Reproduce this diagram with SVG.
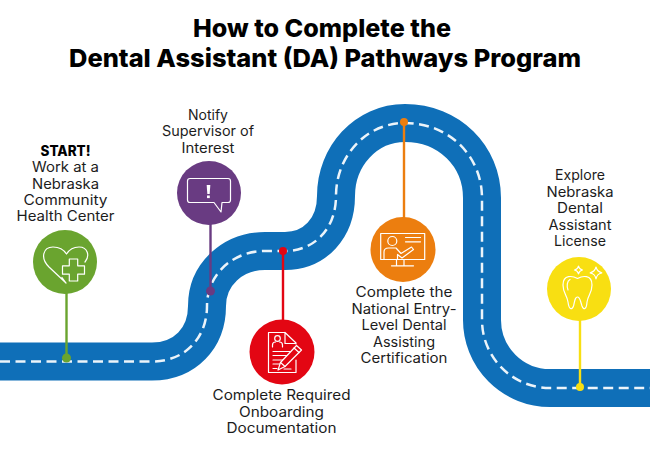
<svg xmlns="http://www.w3.org/2000/svg" width="650" height="450" viewBox="0 0 650 450">
<style>
text{font-family:"Inter","Liberation Sans",sans-serif;font-size:14px;fill:#1c1c1c;text-anchor:middle}
.t{font-size:25px;font-weight:800;fill:#000}
.b{font-weight:800;fill:#000}
.i{fill:none;stroke:#fff;stroke-width:1.2;stroke-linejoin:round;stroke-linecap:round}
.c{fill:none;stroke-width:2.4}
</style>
<rect width="650" height="450" fill="#fff"/>
<g id="title">
<text class="t" x="322" y="37" textLength="258" lengthAdjust="spacingAndGlyphs">How to Complete the</text>
<text class="t" x="325" y="67" textLength="512" lengthAdjust="spacingAndGlyphs">Dental Assistant (DA) Pathways Program</text>
</g>
<g id="road" fill="none">
<path id="road-body" d="M0 361.500H152C185 361.500 207 338 207 306C207 274 233 251 265 251H285C315 251 336 228 336 196C336 156 366 123 405 123C449 123 482 156 482 198V320A68 68 0 0 0 550 388H650" stroke="#0F6FB8" stroke-width="38"/>
<path id="road-dash" d="M0 361.500H152C185 361.500 207 338 207 306C207 274 233 251 265 251H285C315 251 336 228 336 196C336 156 366 123 405 123C449 123 482 156 482 198V320A68 68 0 0 0 550 388H650" stroke="#fff" stroke-width="2.500" stroke-dasharray="10 5.500" opacity=".92"/>
</g>
<g id="connectors">
<path class="c" stroke="#6AA42F" d="M66.500 290V358"/><circle cx="66.500" cy="358" r="4.500" fill="#6AA42F"/>
<path class="c" stroke="#693B82" d="M210.500 222V291"/><circle cx="210.500" cy="291" r="4.500" fill="#693B82"/>
<path class="c" stroke="#E30613" d="M283 251V322"/><circle cx="283" cy="251" r="4" fill="#E30613"/>
<path class="c" stroke="#EC7E0F" d="M404 122V220"/><circle cx="404" cy="122" r="4" fill="#EC7E0F"/>
<path class="c" stroke="#F8DF12" d="M580 318V387"/><circle cx="580" cy="387" r="4" fill="#F8DF12"/>
</g>
<g id="node-start">
<circle cx="65" cy="262" r="32" fill="#6AA42F"/>
<path class="i" d="M66 283L49 267C40 258 43 247 53 247C60 247 64 250 66.500 254C69 250 73 247 79 247C88 247 90 256 85 262M62 277.500L66 283"/>
<path class="i" d="M69.300 259H77.700V265.800H84.500V274.200H77.700V281H69.300V274.200H62.500V265.800H69.300Z"/>
<text class="b" x="65.500" y="156" textLength="50" lengthAdjust="spacingAndGlyphs">START!</text>
<text x="65.500" y="172" textLength="67" lengthAdjust="spacingAndGlyphs">Work at a</text>
<text x="65.500" y="188.500" textLength="67" lengthAdjust="spacingAndGlyphs">Nebraska</text>
<text x="65.500" y="205" textLength="84" lengthAdjust="spacingAndGlyphs">Community</text>
<text x="65.500" y="221" textLength="98" lengthAdjust="spacingAndGlyphs">Health Center</text>
</g>
<g id="node-notify">
<circle cx="209" cy="193" r="32" fill="#693B82"/>
<path class="i" d="M190 178.500H228Q230.500 178.500 230.500 181V200Q230.500 202.500 228 202.500H222L221 212L214 202.500H190Q187.500 202.500 187.500 200V181Q187.500 178.500 190 178.500Z"/>
<path d="M206.700 185H210.300L209.700 194H207.300Z" fill="#fff"/><rect x="207" y="195.500" width="2.800" height="2.600" fill="#fff"/>
<text x="208" y="120" textLength="40" lengthAdjust="spacingAndGlyphs">Notify</text>
<text x="208" y="136" textLength="92" lengthAdjust="spacingAndGlyphs">Supervisor of</text>
<text x="208" y="152.500" textLength="53" lengthAdjust="spacingAndGlyphs">Interest</text>
</g>
<g id="node-documentation">
<circle cx="282" cy="352" r="32.500" fill="#E30613"/>
<path class="i" d="M285 332.500H268.500V372.500H296V360M296 344V343L285 332.500V343.500H296"/>
<circle class="i" cx="277.500" cy="338.500" r="2.800"/>
<path class="i" d="M272.500 347V345C272.500 343 274 342 275.500 342M279.500 342C281 342 282.500 343 282.500 345V347"/>
<path class="i" d="M273 351.500H290M273 355.500H291M273 360H287M273 364H281M273 368.500H277M284 369H291"/>
<path class="i" style="fill:#E30613" d="M278 370L280.500 362.500L296.500 345.500L301.500 350L285 366.500Z"/>
<path class="i" d="M280.500 362.500L285 366.500M294 348L299 352.500"/>
<text x="281.500" y="400" textLength="138" lengthAdjust="spacingAndGlyphs">Complete Required</text>
<text x="281.500" y="416.500" textLength="85" lengthAdjust="spacingAndGlyphs">Onboarding</text>
<text x="281.500" y="433" textLength="110" lengthAdjust="spacingAndGlyphs">Documentation</text>
</g>
<g id="node-certification">
<circle cx="403" cy="249.500" r="32.500" fill="#EC7E0F"/>
<rect class="i" x="380.700" y="233.500" width="44" height="26"/>
<circle class="i" cx="392.300" cy="241" r="4.500"/>
<path class="i" d="M384 259V252C384 249.500 386 248 388.500 248H396L401 253.500L411.500 247L413.500 249.500L402 258L397.500 254.500V259"/>
<path class="i" d="M405.500 237.500H420.500M405.500 241.800H420.500M396.500 259.500V265.500M404 259.500V265.500M391.500 265.800H413.500"/>
<text x="404" y="297" textLength="97" lengthAdjust="spacingAndGlyphs">Complete the</text>
<text x="404" y="313.500" textLength="105" lengthAdjust="spacingAndGlyphs">National Entry-</text>
<text x="404" y="330" textLength="85" lengthAdjust="spacingAndGlyphs">Level Dental</text>
<text x="404" y="346.500" textLength="62" lengthAdjust="spacingAndGlyphs">Assisting</text>
<text x="404" y="363" textLength="87" lengthAdjust="spacingAndGlyphs">Certification</text>
</g>
<g id="node-license">
<circle cx="579" cy="289" r="32" fill="#F8DF12"/>
<path class="i" d="M577.500 278.500C573 276 563 274 563 285C563 293 567 295 568 302C569 310 572 310 573.500 306C575 300 575 297 577.500 297C580 297 580 300 582 306C583.500 310 586.500 310 587 302C588 295 592 293 592 285C592 274 582 276 577.500 278.500Z"/>
<path class="i" d="M568 290C566.500 286 567 281 570 279.500"/>
<path class="i" d="M578.500 266C579 268.500 580 269.500 582.500 270C580 270.500 579 271.500 578.500 274C578 271.500 577 270.500 574.500 270C577 269.500 578 268.500 578.500 266Z"/>
<path class="i" d="M596 267C596.800 270.500 598 271.800 601.800 272.800C598 273.800 596.800 275 596 278.800C595.200 275 594 273.800 590.200 272.800C594 271.800 595.200 270.500 596 267Z"/>
<text x="580" y="180" textLength="50" lengthAdjust="spacingAndGlyphs">Explore</text>
<text x="580" y="196.500" textLength="67" lengthAdjust="spacingAndGlyphs">Nebraska</text>
<text x="580" y="213" textLength="46" lengthAdjust="spacingAndGlyphs">Dental</text>
<text x="580" y="229.500" textLength="63" lengthAdjust="spacingAndGlyphs">Assistant</text>
<text x="580" y="246" textLength="52" lengthAdjust="spacingAndGlyphs">License</text>
</g>
</svg>
